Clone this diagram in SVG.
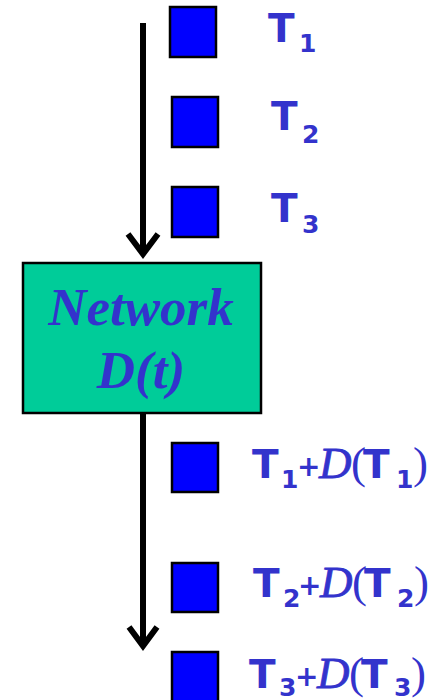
<svg xmlns="http://www.w3.org/2000/svg" width="444" height="700" viewBox="0 0 444 700">
<style>
.sq{fill:#0000FF;stroke:#000;stroke-width:2.5}
.t{font-family:"DejaVu Sans",sans-serif;font-weight:bold;fill:#3333CC;font-size:39px}
.s{font-size:25px}
.p{font-family:"DejaVu Sans",sans-serif;font-weight:bold;fill:#3333CC;font-size:28px}
.m{font-family:"Liberation Serif",serif;fill:#3333CC;font-size:45px}
.i{font-style:italic;stroke:#3333CC;stroke-width:0.8}
.ln{stroke:#000;stroke-width:6;fill:none}
.hd{stroke:#000;stroke-width:6;fill:none;stroke-linecap:butt;stroke-linejoin:miter}
.nw{font-family:"Liberation Serif",serif;font-weight:bold;font-style:italic;font-size:53px;fill:#3333CC}
</style>
<rect width="444" height="700" fill="#fff"/>
<g id="connectors">
<line class="ln" x1="143" y1="23" x2="143" y2="254"/>
<polyline class="hd" points="128,234 143,254 158,234"/>
<line class="ln" x1="143" y1="413" x2="143" y2="646"/>
<polyline class="hd" points="129,627 143,646 157,627"/>
</g>
<g id="network">
<rect x="23" y="263" width="238" height="150" fill="#00CC99" stroke="#000" stroke-width="2.5"/>
<text class="nw" x="141" y="325" text-anchor="middle">Network</text>
<text class="nw" x="141" y="388" text-anchor="middle">D(t)</text>
</g>
<g id="t1"><rect class="sq" x="170" y="7" width="46" height="50"/><text class="t" x="268" y="42">T<tspan class="s" x="299" y="52">1</tspan></text></g>
<g id="t2"><rect class="sq" x="172" y="97" width="46" height="50"/><text class="t" x="271" y="130">T<tspan class="s" x="302" y="143">2</tspan></text></g>
<g id="t3"><rect class="sq" x="172" y="187" width="46" height="50"/><text class="t" x="271" y="222">T<tspan class="s" x="302" y="233">3</tspan></text></g>
<g id="o1"><rect class="sq" x="172" y="443" width="46" height="49"/>
<text class="t" x="252" y="478">T<tspan class="s" x="281" y="488">1</tspan></text>
<text class="p" x="297" y="476">+</text><text class="m i" x="319" y="478">D</text><text class="m" x="351" y="478">(</text>
<text class="t" x="363" y="478">T<tspan class="s" x="396" y="488">1</tspan></text><text class="m" x="413" y="478">)</text></g>
<g id="o2"><rect class="sq" x="172" y="563" width="46" height="49"/>
<text class="t" x="253" y="597">T<tspan class="s" x="283" y="607">2</tspan></text>
<text class="p" x="298" y="595">+</text><text class="m i" x="320" y="597">D</text><text class="m" x="352" y="597">(</text>
<text class="t" x="364" y="597">T<tspan class="s" x="397" y="607">2</tspan></text><text class="m" x="414" y="597">)</text></g>
<g id="o3"><rect class="sq" x="172" y="652" width="46" height="50"/>
<text class="t" x="249" y="688">T<tspan class="s" x="279" y="696">3</tspan></text>
<text class="p" x="295" y="686">+</text><text class="m i" x="317" y="688">D</text><text class="m" x="349" y="688">(</text>
<text class="t" x="361" y="688">T<tspan class="s" x="394" y="696">3</tspan></text><text class="m" x="411" y="688">)</text></g>
</svg>
